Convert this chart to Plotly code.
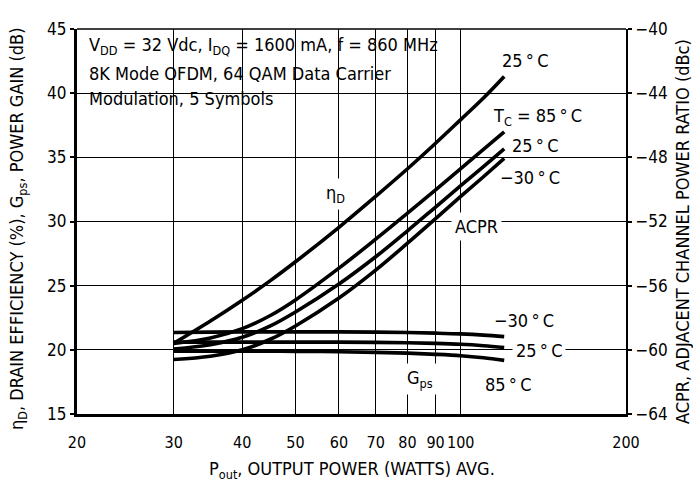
import plotly.graph_objects as go

# Output power sample points (W, avg.)
pout = [30, 35, 40, 45, 50, 60, 70, 80, 90, 100, 110, 120]

# Drain efficiency at Tc = 25 C (%)
eta_d = [20.5, 22.24, 23.86, 25.39, 26.86, 29.55, 31.96, 34.11, 36.1, 37.94, 39.62, 41.3]

# ACPR (dBc) versus case temperature
acpr_85 = [-59.6, -59.26, -58.68, -57.86, -56.89, -54.91, -53.1, -51.48, -50.03, -48.7, -47.51, -46.41]
acpr_25 = [-59.95, -59.68, -59.22, -58.51, -57.64, -55.9, -54.2, -52.58, -51.1, -49.77, -48.58, -47.48]
acpr_m30 = [-60.6, -60.4, -60.0, -59.34, -58.51, -56.77, -55.03, -53.35, -51.82, -50.44, -49.21, -48.07]

# Power gain (dB) versus case temperature
gps_m30 = [21.35, 21.38, 21.4, 21.4, 21.4, 21.4, 21.38, 21.35, 21.3, 21.24, 21.15, 21.03]
gps_25 = [20.6, 20.6, 20.6, 20.6, 20.6, 20.6, 20.58, 20.55, 20.5, 20.43, 20.32, 20.18]
gps_85 = [19.9, 19.9, 19.9, 19.9, 19.88, 19.85, 19.8, 19.74, 19.65, 19.54, 19.38, 19.18]

x_ticks = [20, 30, 40, 50, 60, 70, 80, 90, 100, 200]
left_ticks = [15, 20, 25, 30, 35, 40, 45]
right_ticks = [-64, -60, -56, -52, -48, -44, -40]

FONT = "Liberation Sans Narrow, Arial Narrow, DejaVu Sans Condensed, sans-serif"
LW = 3.6
DEG = "\u2009°\u2009C"

fig = go.Figure()

def add_curve(y, axis):
    fig.add_trace(go.Scatter(
        x=pout, y=y, mode="lines", yaxis=axis,
        line=dict(color="black", width=LW, shape="spline", smoothing=1.0),
        showlegend=False, hoverinfo="skip",
    ))

for series in (gps_m30, gps_25, gps_85, eta_d):
    add_curve(series, "y")
for series in (acpr_85, acpr_25, acpr_m30):
    add_curve(series, "y2")

# plot-area geometry in pixels
L, R, T, B = 77, 626, 29, 414
W, H = R - L, B - T

def px(xp):
    return (xp - L) / W

def py(yp):
    return (B - yp) / H

def white_box(x0, x1, y0, y1):
    fig.add_shape(type="rect", xref="paper", yref="paper",
                  x0=px(x0), x1=px(x1), y0=py(y1), y1=py(y0),
                  fillcolor="white", line=dict(width=0), layer="between")

# white panel behind the condition text
white_box(78, 432, 30, 120)
# gap in the grid between the ACPR temperature labels
white_box(506, 565, 140, 185)
# top frame edge
fig.add_shape(type="line", xref="paper", yref="paper",
              x0=0, x1=1, y0=1, y1=1, line=dict(color="black", width=1.6))

cond = ["V<sub>DD</sub> = 32 Vdc, I<sub>DQ</sub> = 1600 mA, f = 860 MHz",
        "8K Mode OFDM, 64 QAM Data Carrier",
        "Modulation, 5 Symbols"]
for line, ypix in zip(cond, [46, 73, 99]):
    fig.add_annotation(xref="paper", yref="paper", x=px(87), y=py(ypix),
                       text=line, showarrow=False, xanchor="left", yanchor="middle",
                       font=dict(family=FONT, size=18, color="black"))

labels = [
    ("25" + DEG, 525, 60, False),
    ("T<sub>C</sub> = 85" + DEG, 537, 117, False),
    ("25" + DEG, 535, 145, False),
    ("−30" + DEG, 530, 177, False),
    ("ACPR", 476, 227, True),
    ("η<sub>D</sub>", 335, 194, True),
    ("−30" + DEG, 524, 320, False),
    ("25" + DEG, 539, 350, True),
    ("85" + DEG, 508, 384, False),
    ("G<sub>ps</sub>", 420, 379, True),
]
for text, xpix, ypix, bg in labels:
    fig.add_annotation(xref="paper", yref="paper", x=px(xpix), y=py(ypix),
                       text=text, showarrow=False, xanchor="center", yanchor="middle",
                       bgcolor="white" if bg else None, borderpad=3,
                       font=dict(family=FONT, size=18, color="black"))

# axis titles
fig.add_annotation(xref="paper", yref="paper", x=px(18), y=py(229),
                   text="η<sub>D</sub>, DRAIN EFFICIENCY (%), G<sub>ps</sub>, POWER GAIN (dB)",
                   textangle=-90, showarrow=False, xanchor="center", yanchor="middle",
                   font=dict(family=FONT, size=18, color="black"))
fig.add_annotation(xref="paper", yref="paper", x=px(682), y=py(232),
                   text="ACPR, ADJACENT CHANNEL POWER RATIO (dBc)",
                   textangle=-90, showarrow=False, xanchor="center", yanchor="middle",
                   font=dict(family=FONT, size=18, color="black"))
fig.add_annotation(xref="paper", yref="paper", x=px(352), y=py(470),
                   text="P<sub>out</sub>, OUTPUT POWER (WATTS) AVG.",
                   showarrow=False, xanchor="center", yanchor="middle",
                   font=dict(family=FONT, size=18, color="black"))

fig.update_layout(
    width=693, height=485,
    margin=dict(l=L, r=693 - R, t=T, b=485 - B),
    paper_bgcolor="white", plot_bgcolor="white",
    font=dict(family=FONT, size=17, color="black"),
    xaxis=dict(type="log", range=[1.30103, 2.30103],
               tickvals=x_ticks, ticktext=[str(v) for v in x_ticks],
               tickangle=0, tickfont=dict(size=16),
               showgrid=True, gridcolor="black", gridwidth=1.3,
               showline=True, linecolor="black", linewidth=3.2,
               ticks="outside", ticklen=12, tickcolor="rgba(0,0,0,0)",
               zeroline=False),
    yaxis=dict(range=[15, 45], tickvals=left_ticks,
               ticktext=[str(v) for v in left_ticks],
               showgrid=True, gridcolor="black", gridwidth=1.3,
               showline=True, linecolor="black", linewidth=3.2,
               ticks="outside", ticklen=4, tickwidth=1.5, tickcolor="black",
               zeroline=False),
    yaxis2=dict(range=[-64, -40], overlaying="y", side="right",
                tickvals=right_ticks,
                ticktext=["−" + str(abs(v)) for v in right_ticks],
                showgrid=False, showline=True, linecolor="black", linewidth=2.2,
                ticks="outside", ticklen=4, tickwidth=1.5, tickcolor="black",
                zeroline=False),
)

fig.write_html("out.html")
